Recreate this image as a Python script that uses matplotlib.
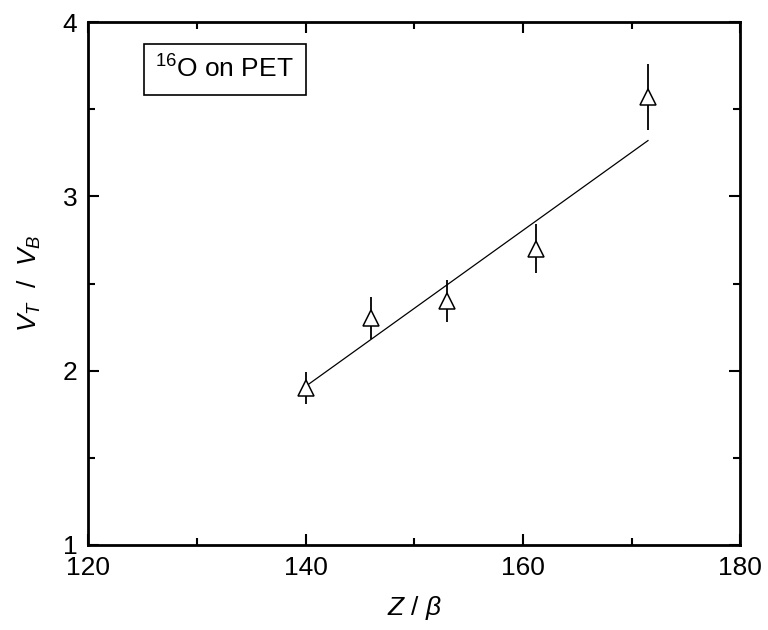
import numpy as np
import matplotlib.pyplot as plt
from matplotlib.ticker import MultipleLocator

# data
z_beta = [140.0, 146.0, 153.0, 161.2, 171.5]
vt_vb = [1.90, 2.30, 2.40, 2.70, 3.57]
vt_err = [0.09, 0.12, 0.12, 0.14, 0.19]

fit_x = [140.0, 171.5]
fit_y = [1.91, 3.32]

plt.rcParams['font.family'] = ['Liberation Sans', 'DejaVu Sans']
plt.rcParams['mathtext.fontset'] = 'custom'
plt.rcParams['mathtext.it'] = 'Liberation Sans:italic'
plt.rcParams['mathtext.rm'] = 'Liberation Sans'

fig = plt.figure(figsize=(7.68, 6.3), dpi=100)
ax = fig.add_axes([0.115, 0.135, 0.849, 0.83])

ax.plot(fit_x, fit_y, color='black', lw=0.9, zorder=2)
ax.errorbar(z_beta, vt_vb, yerr=vt_err, fmt='none', ecolor='black',
            elinewidth=1.3, capsize=0, zorder=3)
ax.plot(z_beta, vt_vb, linestyle='none', marker='^', markersize=11,
        markerfacecolor='white', markeredgecolor='black', markeredgewidth=1.1,
        zorder=4)

ax.set_xlim(120, 180)
ax.set_ylim(1, 4)
ax.xaxis.set_major_locator(MultipleLocator(20))
ax.xaxis.set_minor_locator(MultipleLocator(10))
ax.yaxis.set_major_locator(MultipleLocator(1))
ax.yaxis.set_minor_locator(MultipleLocator(0.5))
ax.tick_params(which='both', direction='in', top=True, right=True,
               labelsize=19, width=1.5)
ax.tick_params(which='major', length=8, pad=8)
ax.tick_params(which='minor', length=5)
for s in ax.spines.values():
    s.set_linewidth(2)

ax.set_xlabel(r'$Z$ / $\beta$', fontsize=19, labelpad=10)
ax.set_ylabel(r'$V_T$  /  $V_B$', fontsize=19, labelpad=14)

ax.text(0.103, 0.91, r'$^{16}$O on PET', transform=ax.transAxes, fontsize=19,
        va='center', ha='left',
        bbox=dict(boxstyle='square,pad=0.45', facecolor='white',
                  edgecolor='black', linewidth=1.2))

fig.savefig('out.png', dpi=100)
